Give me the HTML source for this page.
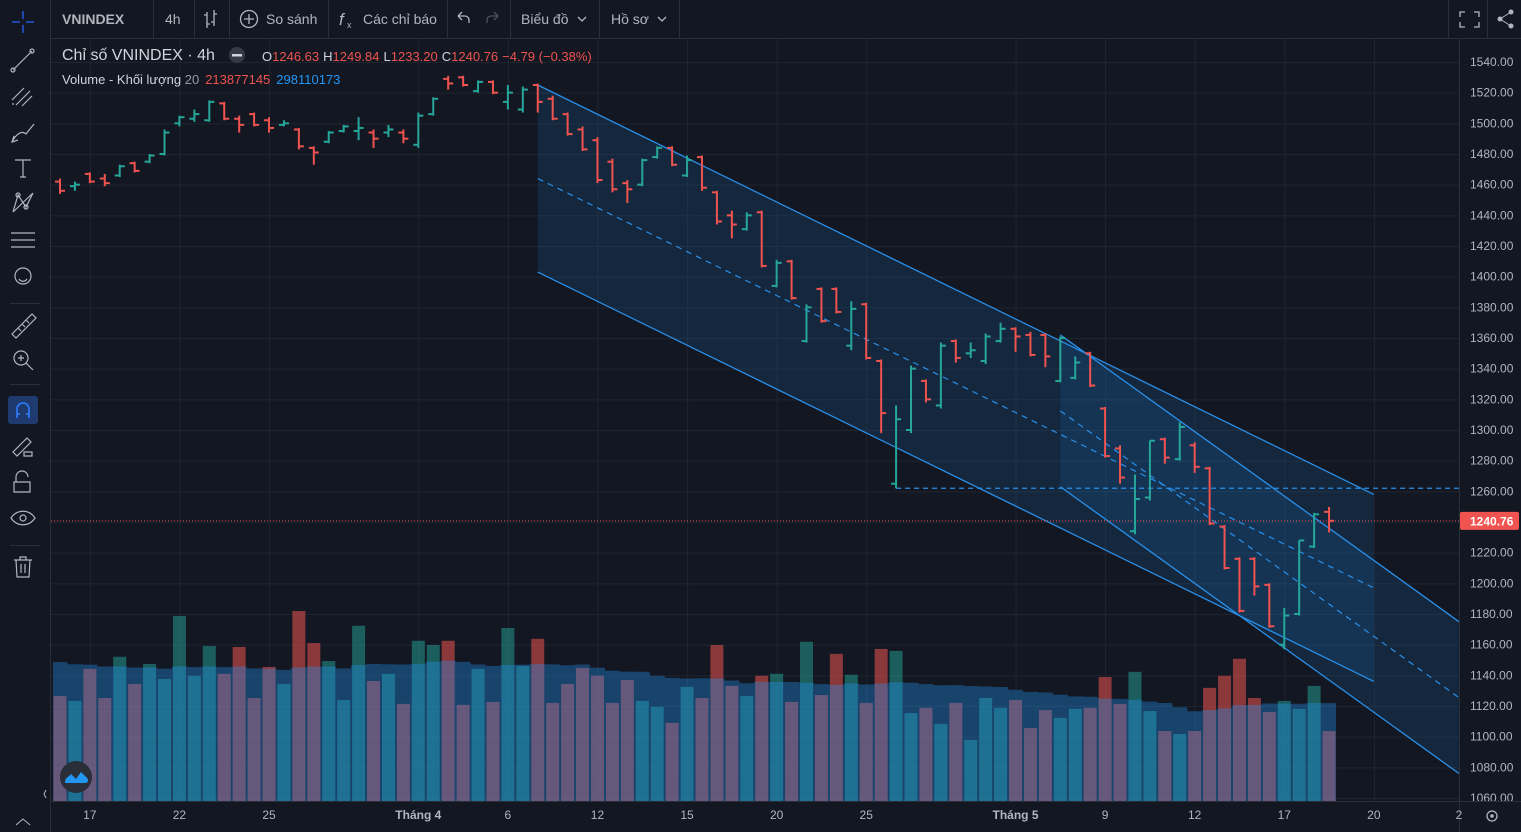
<!DOCTYPE html>
<html><head><meta charset="utf-8">
<style>
html,body{margin:0;padding:0;background:#131722;overflow:hidden}
svg{display:block;font-family:"Liberation Sans","Noto Sans CJK SC",sans-serif}
</style></head>
<body>
<svg id="root" width="1521" height="832" viewBox="0 0 1521 832" xmlns="http://www.w3.org/2000/svg">
<rect x="0" y="0" width="1521" height="832" fill="#131722"/>
<g id="grid"></g>
<g id="drawings"></g>
<g id="volume"></g>
<g id="bars"></g>
<g id="yaxis"></g>
<g id="xaxis"></g>

<g>
  <rect x="0" y="0" width="1521" height="38" fill="#131722"/>
  <line x1="0" y1="38.5" x2="1521" y2="38.5" stroke="#2a2e39"/>
  <text x="62" y="24" fill="#b2b5be" font-size="14" font-weight="bold">VNINDEX</text>
  <line x1="153.5" y1="0" x2="153.5" y2="38" stroke="#2a2e39"/>
  <text x="165" y="24" fill="#b2b5be" font-size="14">4h</text>
  <line x1="194.5" y1="0" x2="194.5" y2="38" stroke="#2a2e39"/>
  <g stroke="#b2b5be" stroke-width="1.3" fill="none"><path d="M207 12v16M207 15h-3M207 24h3M214 10v16M214 14h3M214 22h-3"/></g>
  <line x1="229.5" y1="0" x2="229.5" y2="38" stroke="#2a2e39"/>
  <g><circle cx="249" cy="19" r="8.5" fill="none" stroke="#b2b5be" stroke-width="1.3"/><path d="M249 14v10M244 19h10" stroke="#b2b5be" stroke-width="1.3"/><text x="266" y="24" fill="#b2b5be" font-size="14">So sánh</text></g>
  <line x1="328.5" y1="0" x2="328.5" y2="38" stroke="#2a2e39"/>
  <g><text x="339" y="25" fill="#b2b5be" font-size="17" font-style="italic">f</text><text x="347" y="28" fill="#b2b5be" font-size="9">x</text><text x="363" y="24" fill="#b2b5be" font-size="14">Các chỉ báo</text></g>
  <line x1="447.5" y1="0" x2="447.5" y2="38" stroke="#2a2e39"/>
  <path d="M458 16l4-4M458 16l4 4M458 16h7a4 4 0 0 1 4 4v3" stroke="#b2b5be" stroke-width="1.3" fill="none"/>
  <path d="M498 16l-4-4M498 16l-4 4M498 16h-7a4 4 0 0 0-4 4v3" stroke="#4c525e" stroke-width="1.3" fill="none"/>
  <line x1="510.5" y1="0" x2="510.5" y2="38" stroke="#2a2e39"/>
  <g><text x="521" y="24" fill="#b2b5be" font-size="14">Biểu đồ</text><path d="M578 17l4 4 4-4" stroke="#b2b5be" fill="none" stroke-width="1.3"/></g>
  <line x1="599.5" y1="0" x2="599.5" y2="38" stroke="#2a2e39"/>
  <g><text x="611" y="24" fill="#b2b5be" font-size="14">Hồ sơ</text><path d="M658 17l4 4 4-4" stroke="#b2b5be" fill="none" stroke-width="1.3"/></g>
  <line x1="679.5" y1="0" x2="679.5" y2="38" stroke="#2a2e39"/>
  <line x1="1448.5" y1="0" x2="1448.5" y2="38" stroke="#2a2e39"/>
  <path d="M1460 17v-5h5M1474 12h5v5M1479 22v5h-5M1465 27h-5v-5" stroke="#b2b5be" fill="none" stroke-width="1.3"/>
  <line x1="1487.5" y1="0" x2="1487.5" y2="38" stroke="#2a2e39"/>
  <g fill="#b2b5be"><circle cx="1511" cy="12" r="2.5"/><circle cx="1500" cy="19" r="2.5"/><circle cx="1511" cy="26" r="2.5"/><path d="M1511 12L1500 19L1511 26" stroke="#b2b5be" fill="none"/></g>
</g>

<g>
  <rect x="0" y="0" width="50" height="832" fill="#131722"/>
  <line x1="50.5" y1="0" x2="50.5" y2="832" stroke="#2a2e39"/>
  <path d="M23 11v8M23 25v8M12 22h8M26 22h8" stroke="#2962ff" stroke-width="1.3"/>
  <g stroke="#b2b5be" stroke-width="1.2" fill="none">
    <path d="M13 70L32 51"/><circle cx="13" cy="70" r="2"/><circle cx="32" cy="51" r="2"/>
    <path d="M12 100l12-12M16 105l14-14M22 106l10-10M12 104h2"/>
    <path d="M12 142c4-8 10-12 14-8l8-10M14 136l-2 6 6-2"/>
    <path d="M15 160h16M23 160v17M20 177h6"/>
    <path d="M13 212l5-17 8 12 7-14M13 212l20-19"/><circle cx="18" cy="195" r="2"/><circle cx="26" cy="207" r="2"/>
    <path d="M11 233h24M11 240h24M11 247h24"/>
    <circle cx="23" cy="276" r="8"/><path d="M19 279c2 3 6 3 8 0"/>
    <path d="M12 334l20-20 4 4-20 20zM18 328l3 3M22 324l3 3M26 320l3 3"/>
    <circle cx="21" cy="358" r="7"/><path d="M26 363l7 7M18 358h6M21 355v6"/>
  </g>
  <line x1="10" y1="303.5" x2="40" y2="303.5" stroke="#2a2e39"/>
  <line x1="10" y1="384.5" x2="40" y2="384.5" stroke="#2a2e39"/>
  <rect x="8" y="396" width="30" height="28" rx="3" fill="#1e3a6e"/>
  <path d="M17 418v-9a6 6 0 0 1 12 0v9M17 414h3M26 414h3" stroke="#2e7dff" stroke-width="1.6" fill="none"/>
  <g stroke="#b2b5be" stroke-width="1.2" fill="none">
    <path d="M13 452l14-14 4 4-14 14zM24 452h8v4h-8z"/>
    <path d="M16 482v-5a6 6 0 0 1 12 0M14 482h16v10H14z"/>
    <path d="M11 518c6-9 18-9 24 0c-6 9-18 9-24 0z"/><circle cx="23" cy="518" r="3"/>
    <path d="M14 560h18M20 560v-3h6v3M16 560l1 17h12l1-17M21 564v9M25 564v9"/>
  </g>
  <line x1="10" y1="545.5" x2="40" y2="545.5" stroke="#2a2e39"/>
  <path d="M16 825l7-6 7 6" stroke="#b2b5be" fill="none"/>
</g>

<g>
  <text x="62" y="60" fill="#d1d4dc" font-size="16">Chỉ số VNINDEX · 4h</text>
  <circle cx="237" cy="55" r="8" fill="#363a45"/>
  <rect x="232" y="54" width="10" height="2.5" fill="#d1d4dc"/>
  <text x="262" y="61" font-size="13"><tspan fill="#d1d4dc">O</tspan><tspan fill="#ef5350">1246.63</tspan><tspan fill="#d1d4dc" dx="4">H</tspan><tspan fill="#ef5350">1249.84</tspan><tspan fill="#d1d4dc" dx="4">L</tspan><tspan fill="#ef5350">1233.20</tspan><tspan fill="#d1d4dc" dx="4">C</tspan><tspan fill="#ef5350">1240.76</tspan><tspan fill="#ef5350" dx="4">−4.79 (−0.38%)</tspan></text>
  <text x="62" y="84" font-size="13"><tspan fill="#d1d4dc">Volume - Khối lượng</tspan><tspan fill="#9598a1"> 20</tspan><tspan fill="#ef5350" dx="6">213877145</tspan><tspan fill="#2196f3" dx="6">298110173</tspan></text>
</g>

<g>
  <circle cx="76" cy="777" r="16" fill="#2a2e39"/>
  <path d="M65 783c0-6 4-6 6-9l5 5 5-7 6 6c2 2 1 5-2 5z" fill="#2196f3"/>
</g>
<path d="M46 790l-2 4 2 4" stroke="#b2b5be" fill="none"/>
<g><circle cx="1492" cy="816" r="5" fill="none" stroke="#b2b5be" stroke-width="1.3"/><circle cx="1492" cy="816" r="1.8" fill="#b2b5be"/></g>
</svg>

<script>
// ---- data ----
const opens  = [1462,1459,1467,1464,1466,1474,1475,1480,1500,1503,1502,1513,1503,1506,1502,1499,1496,1484,1488,1495,1495,1494,1494,1494,1486,1506,1529,1530,1521,1527,1514,1509,1525,1516,1506,1496,1489,1475,1461,1460,1478,1484,1466,1478,1455,1440,1431,1442,1394,1410,1358,1392,1392,1355,1382,1345,1265,1300,1332,1316,1358,1350,1345,1358,1366,1362,1362,1332,1334,1350,1314,1288,1234,1256,1294,1281,1290,1275,1237,1216,1216,1199,1160,1180,1224,1246.63];
const highs  = [1464,1462,1468,1467,1473,1475,1480,1496,1505,1509,1515,1514,1505,1507,1504,1502,1497,1485,1495,1499,1504,1496,1499,1496,1507,1517,1531,1531,1528,1528,1525,1524,1526,1518,1507,1498,1491,1477,1463,1477,1485,1485,1479,1479,1456,1443,1442,1443,1411,1411,1382,1393,1393,1384,1383,1346,1316,1342,1333,1357,1359,1357,1363,1370,1367,1364,1363,1361,1348,1351,1315,1290,1271,1293,1295,1305,1292,1276,1238,1217,1217,1200,1184,1228,1246,1249.84];
const lows   = [1454,1456,1461,1459,1465,1468,1474,1479,1498,1501,1501,1502,1494,1498,1494,1498,1483,1473,1487,1494,1489,1484,1491,1487,1484,1505,1522,1524,1520,1519,1509,1507,1507,1502,1492,1482,1461,1455,1448,1459,1477,1472,1465,1456,1434,1425,1430,1406,1393,1385,1357,1370,1376,1352,1346,1298,1262,1298,1318,1314,1344,1347,1343,1357,1351,1348,1341,1331,1333,1328,1282,1265,1232,1254,1278,1280,1272,1238,1209,1181,1192,1171,1157,1179,1223,1233.20];
const closes = [1456,1460,1462,1461,1472,1469,1479,1494,1504,1506,1514,1503,1499,1499,1497,1500,1485,1481,1494,1498,1497,1490,1496,1490,1505,1516,1526,1525,1527,1520,1520,1522,1514,1503,1493,1483,1463,1457,1457,1476,1484,1473,1476,1458,1436,1434,1440,1407,1409,1386,1380,1371,1377,1379,1347,1311,1307,1340,1320,1355,1347,1352,1361,1366,1361,1349,1348,1360,1344,1329,1283,1269,1255,1293,1282,1302,1276,1239,1210,1182,1198,1172,1179,1228,1245,1240.76];
const volumes = [321,306,404,315,441,358,419,373,566,383,474,389,471,315,410,358,581,483,428,309,536,367,389,297,490,477,490,294,404,303,529,413,496,300,358,407,383,300,370,306,288,239,349,315,477,352,321,383,389,303,487,324,450,386,300,465,459,269,285,236,300,187,315,285,309,223,278,254,282,285,379,297,395,275,214,205,214,346,383,435,315,272,306,282,352,213.877145];
const priorVolumeAvg = 430; // estimated average volume before the first visible bar
const priceTicks = [1540,1520,1500,1480,1460,1440,1420,1400,1380,1360,1340,1320,1300,1280,1260,1240,1220,1200,1180,1160,1140,1120,1100,1080,1060];
const timeLabels = ["17","22","25","Tháng 4","6","12","15","20","25","Tháng 5","9","12","17","20","2"];
const timeLabelIdx = [2,8,14,24,30,36,42,48,54,64,70,76,82,88,93.7];
const lastPrice = 1240.76;
const ch1Start = [32,1525], ch1End = [88.0,1258], ch1Width = 122;
const ch2Start = [67,1362], ch2End = [93.7,1175], ch2Width = 99;
const hLinePrice = 1262, hLineStartIdx = 56;

// ---- scales ----
const X0 = 60, STEP = 14.93;
const xs = i => X0 + i*STEP;
const ys = p => 62 + (1540 - p) * 736/480;
const VBASE = 801, VPX = 0.327;
const yv = v => VBASE - v*VPX;
const NS = "http://www.w3.org/2000/svg";
function mk(tag, attrs, parent){ const e=document.createElementNS(NS,tag); for(const k in attrs) e.setAttribute(k,attrs[k]); parent.appendChild(e); return e; }

const PLOT_L = 51, PLOT_R = 1459, PLOT_T = 39, PLOT_B = 801;
const grid = document.getElementById('grid');
priceTicks.forEach(p=>{ const l=mk('line',{x1:PLOT_L,x2:PLOT_R,y1:ys(p)+0.5,y2:ys(p)+0.5,stroke:'#1f2431'},grid);

 });
timeLabelIdx.forEach(i=>{ if(xs(i) < PLOT_R){ const l=mk('line',{x1:xs(i)+0.5,x2:xs(i)+0.5,y1:PLOT_T,y2:PLOT_B,stroke:'#1f2431'},grid);

 }});

const dr = document.getElementById('drawings');
function chan(start,end,width,tag){
  const x1=xs(start[0]), x2=xs(end[0]);
  const yu1=ys(start[1]), yu2=ys(end[1]);
  const yl1=ys(start[1]-width), yl2=ys(end[1]-width);
  const fill=mk('polygon',{points:`${x1},${yu1} ${x2},${yu2} ${x2},${yl2} ${x1},${yl1}`,fill:'rgba(33,150,243,0.13)'},dr);
  
  
  const ym1=(yu1+yl1)/2, ym2=(yu2+yl2)/2;
  const u=mk('line',{x1:x1,y1:yu1,x2:x2,y2:yu2,stroke:'#2a8fe8','stroke-width':1.3},dr);
  
  
  const lo=mk('line',{x1:x1,y1:yl1,x2:x2,y2:yl2,stroke:'#2a8fe8','stroke-width':1.3},dr);
  
  
  const m=mk('line',{x1:x1,y1:ym1,x2:x2,y2:ym2,stroke:'#2a8fe8','stroke-width':1.2,'stroke-dasharray':'6 5'},dr);
  
  
}
chan(ch1Start,ch1End,ch1Width,'channel-1');
chan(ch2Start,ch2End,ch2Width,'channel-2');
const hl=mk('line',{x1:xs(hLineStartIdx),y1:ys(hLinePrice),x2:PLOT_R,y2:ys(hLinePrice),stroke:'#2a8fe8','stroke-width':1.2,'stroke-dasharray':'5 4'},dr);


const lp=mk('line',{x1:PLOT_L,y1:ys(lastPrice),x2:PLOT_R,y2:ys(lastPrice),stroke:'#ef5350','stroke-width':1,'stroke-dasharray':'1 2'},dr);



const vg = document.getElementById('volume');
volumes.forEach((v,i)=>{
  const up = closes[i] >= opens[i];
  const r=mk('rect',{x:xs(i)-6.5,y:yv(v),width:13,height:VBASE-yv(v),fill: up?'rgba(38,166,154,0.5)':'rgba(239,83,80,0.55)'},vg);
  
  
});
const ma = volumes.map((v,i)=>{ const s=Math.max(0,i-19); const a=volumes.slice(s,i+1); const missing=20-a.length; return (a.reduce((x,y)=>x+y,0)+missing*priorVolumeAvg)/20; });
let d=`M${xs(0)-7},${VBASE} `;
ma.forEach((m,i)=>{ d+=`L${xs(i)-7},${yv(m)} L${xs(i)+7},${yv(m)} `; });
d+=`L${xs(volumes.length-1)+7},${VBASE} Z`;
const area=mk('path',{d:d,fill:'rgba(33,150,243,0.35)'},vg);



const bg = document.getElementById('bars');
opens.forEach((o,i)=>{
  const c=closes[i], up=c>=o, col=up?'#26a69a':'#ef5350', x=xs(i);
  const g=mk('g',{},bg);
  
  
  mk('rect',{x:x-1,y:ys(highs[i]),width:2,height:Math.max(2,ys(lows[i])-ys(highs[i])),fill:col},g);
  mk('rect',{x:x-5,y:ys(o)-1,width:5,height:2,fill:col},g);
  mk('rect',{x:x,y:ys(c)-1,width:5,height:2,fill:col},g);
});

const ya = document.getElementById('yaxis');
mk('rect',{x:1459,y:39,width:62,height:763,fill:'#131722'},ya);
mk('line',{x1:1459.5,y1:39,x2:1459.5,y2:802,stroke:'#2a2e39'},ya);
priceTicks.forEach(p=>{
  const t=mk('text',{x:1470,y:ys(p)+4,fill:'#b2b5be','font-size':12},ya);
  t.textContent=p.toFixed(2);
  
  
});
const lbl=mk('rect',{x:1460,y:ys(lastPrice)-9,width:59,height:18,rx:2,fill:'#f05350'},ya);


const lt=mk('text',{x:1470,y:ys(lastPrice)+4.5,fill:'#ffffff','font-size':12,'font-weight':'bold'},ya);
lt.textContent=lastPrice.toFixed(2);



const xa = document.getElementById('xaxis');
mk('line',{x1:51,y1:801.5,x2:1521,y2:801.5,stroke:'#2a2e39'},xa);
mk('line',{x1:1459.5,y1:802,x2:1459.5,y2:832,stroke:'#2a2e39'},xa);
timeLabels.forEach((s,k)=>{
  const t=mk('text',{x:xs(timeLabelIdx[k]),y:819,fill:'#b2b5be','font-size':12,'text-anchor':'middle','font-weight':s.length>3?'bold':'normal'},xa);
  t.textContent=s;
  
  
});
</script>
</body></html>
